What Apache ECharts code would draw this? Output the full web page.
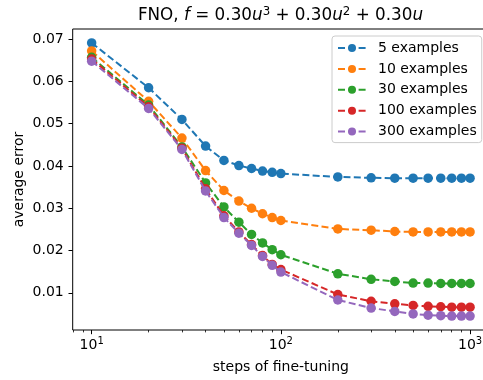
<!DOCTYPE html>
<html>
<head>
<meta charset="utf-8">
<script src="https://cdn.jsdelivr.net/npm/echarts@6/dist/echarts.min.js"></script>
<style>
  html, body { margin: 0; padding: 0; background: #fff; }
  #chart { width: 483px; height: 380px; }
</style>
</head>
<body>
<div id="chart"></div>
<script>
// steps of fine-tuning (x)
const steps = [10, 20, 30, 40, 50, 60, 70, 80, 90, 100, 200, 300, 400, 500, 600, 700, 800, 900, 1000];

// average error per number of examples
const names = ["5 examples", "10 examples", "30 examples", "100 examples", "300 examples"];
const err5 = [0.0691, 0.0585, 0.0510, 0.0447, 0.0413, 0.0401, 0.0394, 0.0388, 0.0385, 0.0382, 0.0374, 0.0372, 0.0371, 0.0371, 0.0371, 0.0371, 0.0371, 0.0371, 0.0371];
const err10 = [0.0672, 0.0553, 0.0466, 0.0389, 0.0342, 0.0317, 0.0300, 0.0287, 0.0278, 0.0271, 0.0251, 0.0248, 0.0245, 0.0244, 0.0244, 0.0244, 0.0244, 0.0244, 0.0244];
const err30 = [0.0657, 0.0544, 0.0445, 0.0360, 0.0303, 0.0267, 0.0238, 0.0218, 0.0202, 0.0190, 0.0145, 0.0132, 0.0127, 0.0123, 0.0123, 0.0122, 0.0122, 0.0122, 0.0122];
const err100 = [0.0653, 0.0540, 0.0442, 0.0346, 0.0282, 0.0244, 0.0214, 0.0188, 0.0167, 0.0155, 0.0096, 0.0080, 0.0074, 0.0070, 0.0068, 0.0067, 0.0066, 0.0066, 0.0066];
const err300 = [0.0648, 0.0536, 0.0439, 0.0341, 0.0278, 0.0241, 0.0212, 0.0186, 0.0165, 0.0149, 0.0083, 0.0064, 0.0056, 0.0050, 0.0047, 0.0046, 0.0045, 0.0045, 0.0045];
const allErr = [err5, err10, err30, err100, err300];

// axis ticks
const yTicks = [0.01, 0.02, 0.03, 0.04, 0.05, 0.06, 0.07];
const xMajor = [10, 100, 1000];
const xMinor = [8, 9, 20, 30, 40, 50, 60, 70, 80, 90, 200, 300, 400, 500, 600, 700, 800, 900];

const colors = ["#1f77b4", "#ff7f0e", "#2ca02c", "#d62728", "#9467bd"];
const FONT = "DejaVu Sans";

const chart = echarts.init(document.getElementById("chart"), null, { renderer: "canvas" });

const xBase = {
  type: "log",
  logBase: 10,
  min: 7.94,
  max: 1259,
  axisLine: { show: false },
  splitLine: { show: false },
};

chart.setOption({
  animation: false,
  color: colors,
  grid: {
    left: 72.7,
    top: 29,
    right: -6,
    bottom: 50,
    show: true,
    borderColor: "#000",
    borderWidth: 1,
    backgroundColor: "transparent",
    outerBoundsMode: "none",
  },
  graphic: [
    {
      type: "text",
      x: 280.5,
      y: 16,
      style: {
        text: "{n|FNO, }{i|f}{n| = 0.30}{i|u}{s|3}{n| + 0.30}{i|u}{s|2}{n| + 0.30}{i|u}",
        align: "center",
        verticalAlign: "middle",
        fill: "#000",
        rich: {
          n: { fontFamily: FONT, fontSize: 16.8, lineHeight: 20 },
          i: { fontFamily: FONT, fontSize: 16.8, fontStyle: "italic", lineHeight: 20 },
          s: { fontFamily: FONT, fontSize: 11.8, verticalAlign: "top", lineHeight: 11 },
        },
      },
    },
  ],
  legend: {
    orient: "vertical",
    left: 332,
    top: 36,
    padding: [5, 5, 4, 5],
    itemWidth: 28,
    itemHeight: 10,
    itemGap: 6.9,
    backgroundColor: "rgba(255,255,255,0.8)",
    borderColor: "#cccccc",
    borderWidth: 1,
    borderRadius: 3,
    textStyle: { fontFamily: FONT, fontSize: 14, color: "#000", padding: [0, 0, 0, 7] },
    data: names,
  },
  xAxis: [
    Object.assign({}, xBase, {
      name: "steps of fine-tuning",
      nameLocation: "middle",
      nameGap: 30,
      nameMoveOverlap: false,
      nameTextStyle: { fontFamily: FONT, fontSize: 14, color: "#000" },
      axisTick: { show: true, length: 4.2, lineStyle: { color: "#000", width: 1 }, customValues: xMajor },
      axisLabel: {
        customValues: xMajor,
        margin: 6,
        fontFamily: FONT,
        fontSize: 14,
        color: "#000",
        formatter: (v) => "{b|10}{s|" + Math.round(Math.log10(v)) + "}",
        rich: {
          b: { fontFamily: FONT, fontSize: 14, lineHeight: 18 },
          s: { fontFamily: FONT, fontSize: 10, verticalAlign: "top", lineHeight: 10 },
        },
      },
    }),
    Object.assign({}, xBase, {
      position: "bottom",
      axisTick: { show: true, length: 2.4, lineStyle: { color: "#000", width: 0.8 }, customValues: xMinor },
      axisLabel: { show: false },
    }),
  ],
  yAxis: {
    type: "value",
    min: 0.0012,
    max: 0.0724,
    name: "average error",
    nameLocation: "middle",
    nameGap: 46,
    nameMoveOverlap: false,
    nameTextStyle: { fontFamily: FONT, fontSize: 14, color: "#000" },
    axisLine: { show: false },
    splitLine: { show: false },
    axisTick: { show: true, length: 4.2, lineStyle: { color: "#000", width: 1 }, customValues: yTicks },
    axisLabel: {
      customValues: yTicks,
      margin: 9,
      fontFamily: FONT,
      fontSize: 14,
      color: "#000",
      formatter: (v) => v.toFixed(2),
    },
  },
  series: names.map((name, k) => ({
    name: name,
    type: "line",
    xAxisIndex: 0,
    data: steps.map((s, i) => [s, allErr[k][i]]),
    symbol: "circle",
    symbolSize: 9.5,
    itemStyle: { color: colors[k] },
    lineStyle: { color: colors[k], width: 2, type: [7, 3.3] },
    emphasis: { disabled: true },
    z: 2 + k,
  })),
});
</script>
</body>
</html>
